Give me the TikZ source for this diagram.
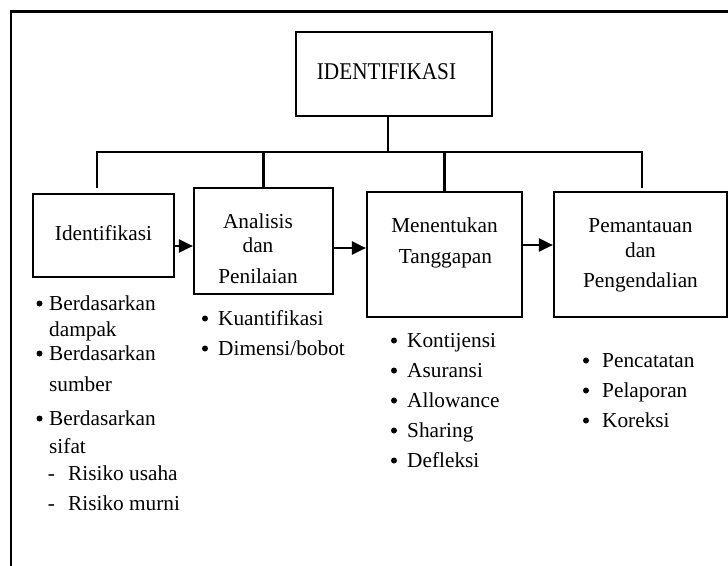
\documentclass[tikz,border=0pt]{standalone}
\usepackage{fontspec}
\setmainfont{Liberation Serif}
\usetikzlibrary{arrows.meta}
\begin{document}
\begin{tikzpicture}[x=1pt,y=-1pt,
  box/.style={draw, line width=2.2pt, rectangle, inner sep=0pt},
  line/.style={line width=2.2pt},
  arr/.style={line width=2.2pt, -{Triangle[length=14pt,width=13pt]}},
  txt/.style={inner sep=0pt, anchor=base, font=\fontsize{21.3}{25}\selectfont},
  ltxt/.style={inner sep=0pt, anchor=base west, font=\fontsize{21.3}{25}\selectfont},
  hyph/.style={inner sep=0pt, anchor=base, font=\fontsize{21.3}{25}\selectfont},
  bul/.style={circle, fill, inner sep=0pt, minimum size=6pt, yshift=6.5pt}]
\useasboundingbox (0,0) rectangle (728,565);
% outer frame (only top and left visible)
\coordinate (fa) at (11,11.5);
\coordinate (fb) at (730,11.5);
\coordinate (fc) at (11,567);
\draw[line width=2.2pt] (fb) -- (fa) -- (fc);
% boxes
\node[box, minimum width=196pt, minimum height=84pt] (b0) at (394,74) {};
\node[box, minimum width=141pt, minimum height=83pt] (b1) at (103.5,235.5) {};
\node[box, minimum width=139pt, minimum height=106pt] (b2) at (263.5,241) {};
\node[box, minimum width=155pt, minimum height=125pt] (b3) at (444.5,254.5) {};
\node[box, minimum width=173pt, minimum height=125pt] (b4) at (640.5,254.5) {};
% box texts
\node[txt] (t0) at (386.5,79) {\fontsize{24}{28}\selectfont\scalebox{0.885}[1]{IDENTIFIKASI}};
\node[txt] (t1) at (103.5,240) {Identifikasi};
\node[txt] (t2a) at (258,228) {Analisis};
\node[txt] (t2b) at (258,252) {dan};
\node[txt] (t2c) at (258,283) {Penilaian};
\node[txt] (t3a) at (444.5,232) {Menentukan};
\node[txt] (t3b) at (445.5,263) {Tanggapan};
\node[txt] (t4a) at (640.5,232) {Pemantauan};
\node[txt] (t4b) at (640.5,257) {dan};
\node[txt] (t4c) at (640.5,287) {Pengendalian};
% tree connectors
\coordinate (j) at (388,152);
\coordinate (hl) at (97,152);
\coordinate (hr) at (642,152);
\coordinate (d1) at (97,188);
\coordinate (d4) at (642,188);
\draw[line] ([xshift=-6pt]b0.south) -- (j);
\draw[line, line cap=rect] (hl) -- (hr);
\draw[line] (hl) -- (d1);
\draw[line] (b2.north |- hl) -- (b2.north);
\draw[line] (b3.north |- hl) -- (b3.north);
\draw[line] (hr) -- (d4);
% arrows
\draw[arr] ([yshift=-10.5pt]b1.east) coordinate (s1) -- (s1 -| b2.west);
\draw[arr] ([yshift=-7pt]b2.east) coordinate (s2) -- (s2 -| b3.west);
\draw[arr] ([yshift=9.5pt]b3.east) coordinate (s3) -- (s3 -| b4.west);
% list 1
\node[bul] (p1) at (39.5,310) {};
\node[ltxt] (l1a) at (49,310) {Berdasarkan};
\node[ltxt] (l1b) at (49,336) {dampak};
\node[bul] (p2) at (39.5,360) {};
\node[ltxt] (l1c) at (49,360) {Berdasarkan};
\node[ltxt] (l1d) at (49,391) {sumber};
\node[bul] (p3) at (39.5,425) {};
\node[ltxt] (l1e) at (49,425) {Berdasarkan};
\node[ltxt] (l1f) at (49,453) {sifat};
\node[hyph] (q1) at (51.5,480) {-};
\node[ltxt] (l1g) at (68,480) {Risiko usaha};
\node[hyph] (q2) at (51.5,510) {-};
\node[ltxt] (l1h) at (68,510) {Risiko murni};
% list 2
\node[bul] (p4) at (205,325) {};
\node[ltxt] (l2a) at (218,325) {Kuantifikasi};
\node[bul] (p5) at (205,355) {};
\node[ltxt] (l2b) at (218,355) {Dimensi/bobot};
% list 3
\node[bul] (p6) at (394,347) {};
\node[ltxt] (l3a) at (407,347) {Kontijensi};
\node[bul] (p7) at (394,377) {};
\node[ltxt] (l3b) at (407,377) {Asuransi};
\node[bul] (p8) at (394,407) {};
\node[ltxt] (l3c) at (407,407) {Allowance};
\node[bul] (p9) at (394,437) {};
\node[ltxt] (l3d) at (407,437) {Sharing};
\node[bul] (p10) at (394,467) {};
\node[ltxt] (l3e) at (407,467) {Defleksi};
% list 4
\node[bul] (p11) at (586,367) {};
\node[ltxt] (l4a) at (602,367) {Pencatatan};
\node[bul] (p12) at (586,397) {};
\node[ltxt] (l4b) at (602,397) {Pelaporan};
\node[bul] (p13) at (586,427) {};
\node[ltxt] (l4c) at (602,427) {Koreksi};
\end{tikzpicture}
\end{document}
